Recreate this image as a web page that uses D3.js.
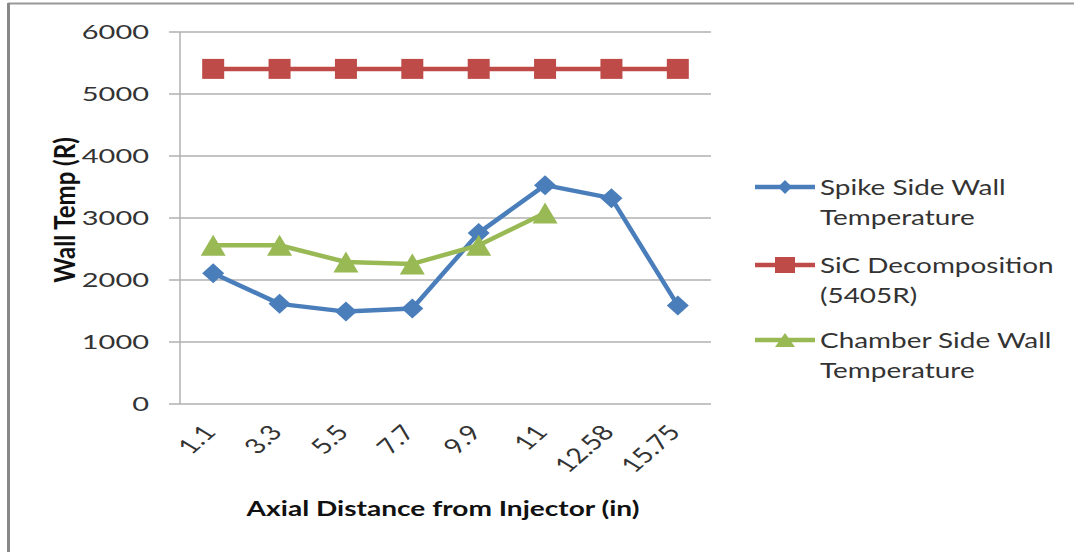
<!DOCTYPE html>
<meta charset="utf-8">
<style>
body { margin: 0; background: #fff; }
text { font-family: Lato, "Open Sans", sans-serif; }
.grid line { stroke: #b0b0b0; stroke-width: 1.5px; }
.tick-label { fill: #333; font-size: 20px; }
.title { fill: #111; font-weight: bold; }
.legend text { fill: #333; font-size: 21px; }
</style>
<svg width="1074" height="552"></svg>
<script src="https://d3js.org/d3.v7.min.js"></script>
<script>

var categories = ["1.1", "3.3", "5.5", "7.7", "9.9", "11", "12.58", "15.75"];
var spikeTemp = [2110, 1615, 1490, 1540, 2760, 3530, 3320, 1590];
var sicDecomp = [5405, 5405, 5405, 5405, 5405, 5405, 5405, 5405];
var chamberTemp = [2560, 2560, 2290, 2260, 2560, 3080];
var yTicks = [0, 1000, 2000, 3000, 4000, 5000, 6000];

var series = [
  { name: ["Spike Side Wall", "Temperature"], values: spikeTemp, color: "#4a7ebb", shape: "diamond" },
  { name: ["SiC Decomposition", "(5405R)"], values: sicDecomp, color: "#be4b48", shape: "square" },
  { name: ["Chamber Side Wall", "Temperature"], values: chamberTemp, color: "#98b954", shape: "triangle" }
];

// the picture is stretched sideways, so text gets stretched too
var sx = 1.37;

var svg = d3.select("svg");

// frame
svg.append("line").attr("x1", 8).attr("x2", 1074).attr("y1", 3.5).attr("y2", 3.5)
    .attr("stroke", "#999").attr("stroke-width", 2);
svg.append("line").attr("x1", 8.5).attr("x2", 8.5).attr("y1", 3).attr("y2", 552)
    .attr("stroke", "#888").attr("stroke-width", 3);

var plotLeft = 180, plotRight = 711, plotTop = 32, plotBottom = 404;

var x = d3.scaleBand().domain(categories).range([plotLeft, plotRight]);
var y = d3.scaleLinear().domain([0, 6000]).range([plotBottom, plotTop]);

// gridlines
svg.append("g").attr("class", "grid")
  .selectAll("line")
  .data(yTicks)
  .enter().append("line")
    .attr("x1", plotLeft - 11).attr("x2", plotRight)
    .attr("y1", function(d) { return y(d); })
    .attr("y2", function(d) { return y(d); });

svg.append("line")
    .attr("x1", plotLeft).attr("x2", plotLeft).attr("y1", plotTop).attr("y2", plotBottom)
    .attr("stroke", "#b0b0b0").attr("stroke-width", 1.5);

// y tick labels
svg.append("g").selectAll("text")
  .data(yTicks)
  .enter().append("text")
    .attr("class", "tick-label")
    .attr("text-anchor", "end")
    .attr("dy", "0.36em")
    .attr("transform", function(d) { return "translate(149," + y(d) + ") scale(1.45,1)"; })
    .text(function(d) { return d; });

// x tick labels
svg.append("g").selectAll("text")
  .data(categories)
  .enter().append("text")
    .attr("class", "tick-label")
    .style("font-size", "21px")
    .attr("text-anchor", "end")
    .attr("transform", function(d) {
      return "translate(" + (x(d) + x.bandwidth() / 2 + 4) + ",433) scale(" + sx + ",1) rotate(-50)";
    })
    .text(function(d) { return d; });

// axis titles
svg.append("text")
    .attr("class", "title")
    .attr("text-anchor", "middle")
    .style("font-size", "20.5px")
    .attr("transform", "translate(443,516) scale(" + sx + ",1)")
    .text("Axial Distance from Injector (in)");

svg.append("text")
    .attr("class", "title")
    .attr("text-anchor", "middle")
    .style("font-size", "24px")
    .attr("transform", "translate(75,210) scale(1.15,1) rotate(-90)")
    .text("Wall Temp (R)");

function markerPath(shape, w, h) {
  if (shape === "diamond") return "M0," + (-h) + "L" + w + ",0L0," + h + "L" + (-w) + ",0Z";
  if (shape === "square") return "M" + (-w) + "," + (-h) + "h" + (2 * w) + "v" + (2 * h) + "h" + (-2 * w) + "Z";
  return "M0," + (-h) + "L" + w + "," + h + "L" + (-w) + "," + h + "Z";
}

var line = d3.line()
    .x(function(d, i) { return x(categories[i]) + x.bandwidth() / 2; })
    .y(function(d) { return y(d); });

series.forEach(function(s) {
  var g = svg.append("g");
  g.append("path")
      .attr("d", line(s.values))
      .attr("fill", "none")
      .attr("stroke", s.color)
      .attr("stroke-width", 4.5)
      .attr("stroke-linejoin", "round");
  var mw = s.shape === "triangle" ? 12.5 : 11, mh = s.shape === "triangle" ? 10.5 : 10;
  g.selectAll(".m")
    .data(s.values)
    .enter().append("path")
      .attr("class", "m")
      .attr("d", markerPath(s.shape, mw, mh))
      .attr("fill", s.color)
      .attr("transform", function(d, i) {
        return "translate(" + (x(categories[i]) + x.bandwidth() / 2) + "," + y(d) + ")";
      });
});

// legend
var legendY = [187, 265, 340];
var legend = svg.append("g").attr("class", "legend");
series.forEach(function(s, i) {
  var g = legend.append("g").attr("transform", "translate(755," + legendY[i] + ")");
  g.append("line").attr("x1", 0).attr("x2", 60)
      .attr("stroke", s.color).attr("stroke-width", 4.5);
  var mw = s.shape === "triangle" ? 10 : (s.shape === "square" ? 10 : 7),
      mh = s.shape === "triangle" ? 7 : (s.shape === "square" ? 8 : 7);
  g.append("path").attr("d", markerPath(s.shape, mw, mh))
      .attr("fill", s.color).attr("transform", "translate(30,0)");
  s.name.forEach(function(t, j) {
    g.append("text")
        .attr("transform", "translate(65," + (8 + j * 30) + ") scale(1.33,1)")
        .text(t);
  });
});

</script>
